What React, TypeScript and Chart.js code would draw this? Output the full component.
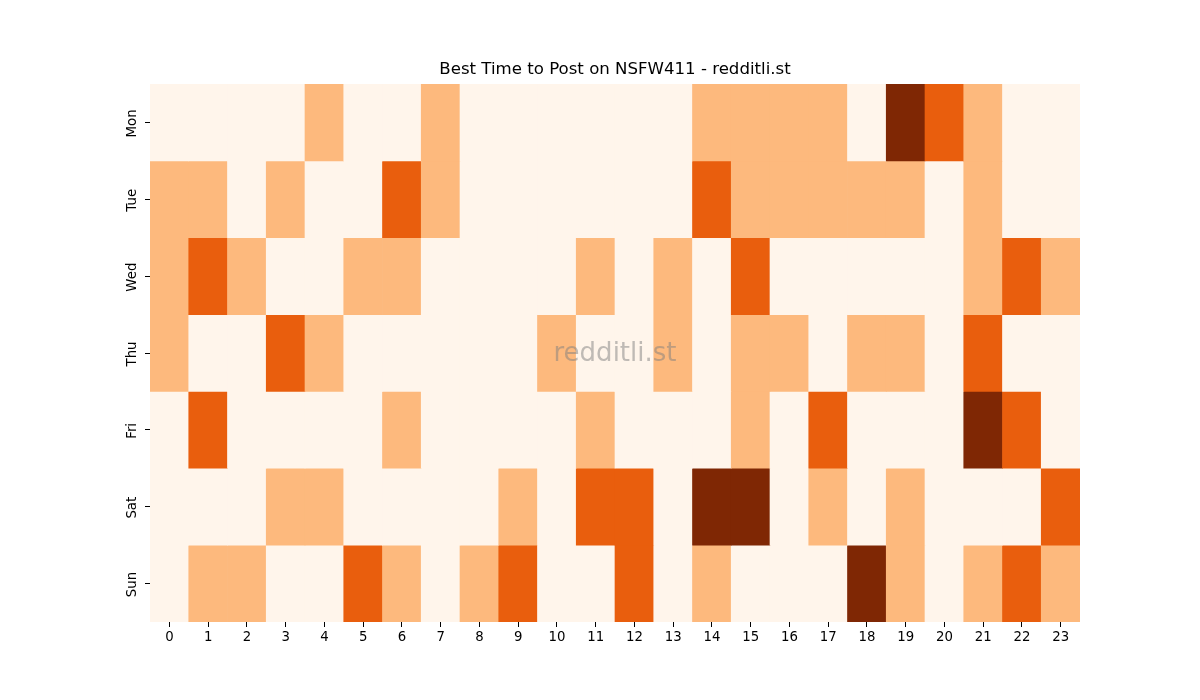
import { useEffect, useRef } from "react";
import { Chart, registerables, type ChartConfiguration, type Plugin } from "chart.js";

Chart.register(...registerables);

const days = ["Mon", "Tue", "Wed", "Thu", "Fri", "Sat", "Sun"];
const hours = Array.from({ length: 24 }, (_, i) => String(i));
const titleText = "Best Time to Post on NSFW411 - redditli.st";

// nivel de actividad por hora (0 = bajo, 3 = mejor momento)
const mon = [0, 0, 0, 0, 1, 0, 0, 1, 0, 0, 0, 0, 0, 0, 1, 1, 1, 1, 0, 3, 2, 1, 0, 0];
const tue = [1, 1, 0, 1, 0, 0, 2, 1, 0, 0, 0, 0, 0, 0, 2, 1, 1, 1, 1, 1, 0, 1, 0, 0];
const wed = [1, 2, 1, 0, 0, 1, 1, 0, 0, 0, 0, 1, 0, 1, 0, 2, 0, 0, 0, 0, 0, 1, 2, 1];
const thu = [1, 0, 0, 2, 1, 0, 0, 0, 0, 0, 1, 0, 0, 1, 0, 1, 1, 0, 1, 1, 0, 2, 0, 0];
const fri = [0, 2, 0, 0, 0, 0, 1, 0, 0, 0, 0, 1, 0, 0, 0, 1, 0, 2, 0, 0, 0, 3, 2, 0];
const sat = [0, 0, 0, 1, 1, 0, 0, 0, 0, 1, 0, 2, 2, 0, 3, 3, 0, 1, 0, 1, 0, 0, 0, 2];
const sun = [0, 1, 1, 0, 0, 2, 1, 0, 1, 2, 0, 0, 2, 0, 1, 0, 0, 0, 3, 1, 0, 1, 2, 1];
const levels = [mon, tue, wed, thu, fri, sat, sun];

const palette = ["#fff5eb", "#fdb97d", "#e95e0d", "#7f2704"];
const FONT = "'DejaVu Sans', sans-serif";

const overlay: Plugin<"bar"> = {
  id: "overlay",
  afterDraw(chart) {
    const { ctx, chartArea, scales } = chart;
    const y = scales.y;
    const cx = (chartArea.left + chartArea.right) / 2;
    ctx.save();
    ctx.fillStyle = "#000";
    ctx.textAlign = "center";
    ctx.textBaseline = "middle";
    // título centrado sobre el área del gráfico
    ctx.font = `16.6px ${FONT}`;
    ctx.fillText(titleText, cx, chartArea.top - 14);
    // etiquetas de días rotadas, como en matplotlib
    ctx.font = `13.3px ${FONT}`;
    days.forEach((d, i) => {
      const py = y.getPixelForValue(i + 0.5);
      ctx.save();
      ctx.translate(chartArea.left - 17, py + 1);
      ctx.rotate(-Math.PI / 2);
      ctx.fillText(d, 0, 0);
      ctx.restore();
    });
    // marca de agua
    ctx.font = `26px ${FONT}`;
    ctx.fillStyle = "rgba(128,128,128,0.5)";
    ctx.fillText("redditli.st", cx, (chartArea.top + chartArea.bottom) / 2 + 1.5);
    ctx.restore();
  },
};

export default function App() {
  const canvasRef = useRef<HTMLCanvasElement>(null);
  const chartRef = useRef<Chart | null>(null);

  useEffect(() => {
    document.body.style.margin = "0";
    if (!canvasRef.current) return;
    const cfg: ChartConfiguration<"bar", [number, number][], string> = {
      type: "bar",
      data: {
        labels: hours,
        datasets: days.map((d, di) => ({
          label: d,
          data: hours.map(() => [di, di + 1] as [number, number]),
          backgroundColor: levels[di].map((v) => palette[v]),
          borderWidth: 0,
          barPercentage: 1,
          categoryPercentage: 1,
          grouped: false,
        })),
      },
      options: {
        animation: false,
        responsive: false,
        layout: { padding: { left: 0, right: 120, top: 84, bottom: 0 } },
        scales: {
          x: {
            type: "category",
            grid: {
              offset: false,
              drawOnChartArea: false,
              tickLength: 5,
              color: "#000",
            },
            border: { display: false },
            ticks: {
              color: "#000",
              font: { family: FONT, size: 13.3 },
              padding: 3,
              maxRotation: 0,
              autoSkip: false,
            },
            afterFit: (s) => {
              s.height = 78;
            },
          },
          y: {
            type: "linear",
            min: 0,
            max: 7,
            reverse: true,
            afterBuildTicks: (s) => {
              s.ticks = days.map((_, i) => ({ value: i + 0.5 }));
            },
            grid: {
              drawOnChartArea: false,
              tickLength: 5,
              color: "#000",
            },
            border: { display: false },
            ticks: { callback: () => "" },
            afterFit: (s) => {
              s.width = 150;
            },
          },
        },
        plugins: {
          legend: { display: false },
          tooltip: { enabled: false },
          title: { display: false },
        },
      },
      plugins: [overlay],
    };
    chartRef.current = new Chart(canvasRef.current, cfg);
    return () => {
      chartRef.current?.destroy();
      chartRef.current = null;
    };
  }, []);

  return (
    <div style={{ width: 1200, height: 700, background: "#fff" }}>
      <canvas ref={canvasRef} width={1200} height={700} />
    </div>
  );
}
